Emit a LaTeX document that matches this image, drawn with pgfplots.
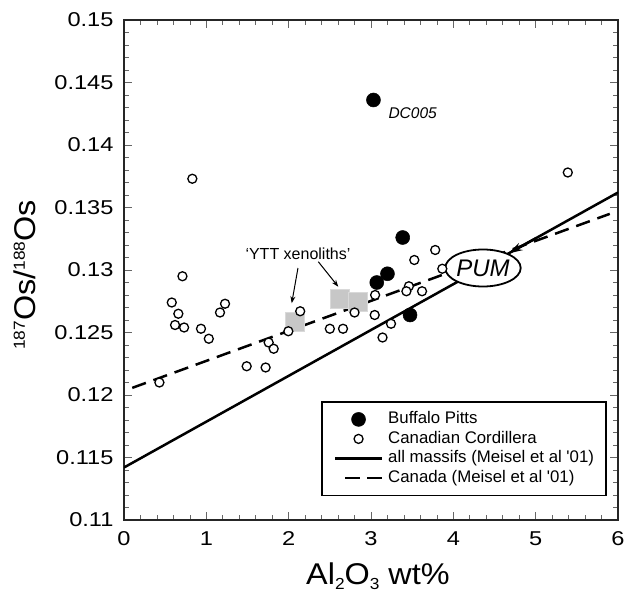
\documentclass[border=0pt]{standalone}
\usepackage{fontspec}
\setmainfont{Liberation Sans}
\newfontfamily\tickfont{Liberation Sans}[FakeStretch=1.18]
\newfontfamily\labelfont{Liberation Sans}[FakeStretch=1.08]
\usepackage{pgfplots}
\pgfplotsset{compat=1.18}
\usetikzlibrary{arrows.meta,shapes.geometric}

\pgfplotstableread{
x y
0.43 0.1210
0.83 0.1373
0.71 0.1295
0.58 0.1274
0.66 0.1265
0.62 0.1256
0.73 0.1254
0.935 0.1253
1.03 0.1245
1.166 0.1266
1.227 0.1273
1.49 0.1223
1.72 0.1222
1.757 0.1242
1.818 0.1237
1.996 0.1251
2.14 0.1267
2.50 0.1253
2.66 0.1253
2.80 0.1266
3.05 0.1280
3.045 0.1264
3.14 0.1246
3.243 0.1257
3.46 0.1287
3.43 0.1283
3.62 0.1283
3.526 0.1308
3.78 0.1316
3.866 0.1301
5.39 0.1378
}\cordillera

\pgfplotstableread{
x y
3.03 0.1436
3.385 0.1326
3.20 0.1297
3.07 0.1290
3.474 0.1264
}\buffalo

\pgfplotstableread{
x y
2.071 0.12584
2.617 0.12772
2.836 0.12744
}\ytt

\begin{document}
\begin{tikzpicture}
\begin{axis}[
  scale only axis, width=494pt, height=500pt,
  xmin=0, xmax=6, ymin=0.11, ymax=0.15,
  xtick={0,1,2,3,4,5,6},
  xticklabels={0,1,2,3,4,5,6},
  ytick={0.11,0.115,0.12,0.125,0.13,0.135,0.14,0.145,0.15},
  yticklabels={0.11,0.115,0.12,0.125,0.13,0.135,0.14,0.145,0.15},
  minor x tick num=4, minor y tick num=4,
  tick label style={font=\tickfont\fontsize{20}{20}\selectfont},
  xticklabel style={yshift=-8pt},
  yticklabel style={xshift=-7pt},
  /pgf/number format/assume math mode=true,
  major tick length=8pt, minor tick length=5pt,
  every tick/.style={line width=0.7pt, black!60},
  axis line style={line width=1.6pt, black!85},
  legend style={at={(rel axis cs:0.3988,0.238)}, anchor=north west,
    draw=black, line width=1.8pt, fill=white,
    inner xsep=12pt, inner ysep=9.5pt,
    font=\fontsize{16.8}{20}\selectfont,
    row sep=3.5pt, column sep=5pt,
    nodes={inner sep=0pt, text height=12.5pt, text depth=3.5pt}},
  legend cell align=left,
  legend image code/.code={\draw[mark repeat=2,mark phase=2,#1] plot coordinates {(0pt,0pt) (23.5pt,0pt) (47pt,0pt)};},
]
\coordinate (ll) at (rel axis cs:0,0);
\coordinate (ur) at (rel axis cs:1,1);
\coordinate (ymid) at (rel axis cs:0,0.49);
\coordinate (xmid) at (rel axis cs:0.514,0);

\addplot[black, line width=2.5pt, forget plot] coordinates {(0,0.1142) (6,0.1362)};
\addplot[black, line width=2.5pt, dash pattern=on 14.5pt off 8pt, forget plot] coordinates {(0.1,0.12057) (5.9,0.13449)};
\addplot[only marks, mark=square*, mark size=9.3pt, mark options={fill=black!22, draw=black!15, line width=0.5pt}, forget plot] table {\ytt};

\addplot[only marks, mark=*, mark size=7pt, mark options={fill=black, draw=black, line width=0.5pt}] table {\buffalo};
\addlegendentry{Buffalo Pitts}
\addplot[only marks, mark=*, mark size=4.5pt, mark options={fill=white, draw=black, line width=1.3pt}] table {\cordillera};
\addlegendentry{Canadian Cordillera}
\addlegendimage{legend image code/.code={\draw[black,line width=2.3pt] (0pt,0pt)--(47pt,0pt);}}
\addlegendentry{all massifs (Meisel et al \textquotesingle 01)}
\addlegendimage{legend image code/.code={\draw[black,line width=2.3pt] (10pt,0pt)--(25pt,0pt) (32pt,0pt)--(47pt,0pt);}}
\addlegendentry{Canada (Meisel et al \textquotesingle 01)}

\node[draw=black, line width=1.8pt, fill=white, ellipse, minimum width=67pt, minimum height=37pt, inner sep=0pt,
  font=\itshape\fontsize{24}{24}\selectfont] at (axis cs:4.36,0.13016) {PUM};
\draw[black, line width=2.5pt, -{Stealth[length=14pt,width=8pt]}] (axis cs:5.0,0.13253) -- (axis cs:4.67,0.13133);

\node[anchor=west, font=\itshape\fontsize{15.5}{15.5}\selectfont] at (axis cs:3.17,0.14256) {DC005};
\node[font=\fontsize{16}{16}\selectfont] at (axis cs:2.113,0.13128) {‘YTT xenoliths’};
\draw[black, line width=1pt, -{Stealth[length=7pt,width=5pt]}] (axis cs:2.113,0.13016) -- (axis cs:2.037,0.12734);
\draw[black, line width=1pt, -{Stealth[length=7pt,width=5pt]}] (axis cs:2.36,0.13066) -- (axis cs:2.603,0.12866);
\end{axis}
\node[rotate=90, anchor=base, font=\labelfont\fontsize{30}{30}\selectfont] at ([xshift=-89pt]ymid)
  {\raisebox{10pt}{\fontsize{16}{16}\selectfont 187}Os/\raisebox{10pt}{\fontsize{16}{16}\selectfont 188}Os};
\node[anchor=base, font=\labelfont\fontsize{30}{30}\selectfont] at ([yshift=-64pt]xmid)
  {Al\raisebox{-5pt}{\fontsize{16}{16}\selectfont 2}O\raisebox{-5pt}{\fontsize{16}{16}\selectfont 3} wt\%};
\pgfresetboundingbox
\path ([shift={(-124pt,-74pt)}]ll) rectangle ([shift={(8pt,20pt)}]ur);
\end{tikzpicture}
\end{document}
